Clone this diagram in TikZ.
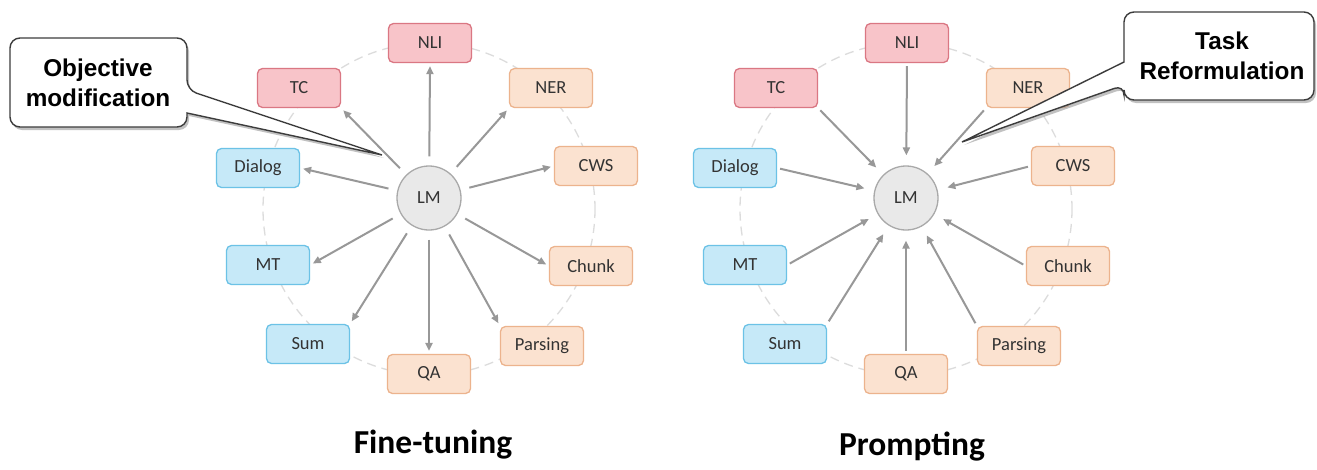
\documentclass[tikz,border=0pt]{standalone}
\usepackage{fontspec}
\setmainfont{Carlito}
\newfontfamily\calloutfont{Liberation Sans}
\usetikzlibrary{arrows.meta,shadows}

\definecolor{redfill}{HTML}{F8C4C9}
\definecolor{redline}{HTML}{DA7783}
\definecolor{orgfill}{HTML}{FBE2D0}
\definecolor{orgline}{HTML}{ECB38D}
\definecolor{bluefill}{HTML}{C6E9F8}
\definecolor{blueline}{HTML}{6CC2E6}
\definecolor{lmfill}{HTML}{E9E9E9}
\definecolor{lmline}{HTML}{A9A9A9}
\definecolor{arrowgray}{HTML}{989898}
\definecolor{ringgray}{HTML}{DCDCDC}
\definecolor{textgray}{HTML}{333333}
\definecolor{calloutline}{HTML}{3C3C3C}

\tikzset{
  task/.style={rounded corners=5pt, minimum width=83pt, minimum height=39pt,
    line width=1.3pt, inner sep=0pt, text=textgray,
    font=\fontsize{18.5}{20}\selectfont},
  redtask/.style={task, draw=redline, fill=redfill},
  orgtask/.style={task, draw=orgline, fill=orgfill},
  bluetask/.style={task, draw=blueline, fill=bluefill},
  lmnode/.style={circle, minimum size=64pt, inner sep=0pt, draw=lmline,
    fill=lmfill, line width=1.3pt, text=textgray,
    font=\fontsize{18.5}{20}\selectfont},
  ring/.style={draw=ringgray, line width=1.3pt, dash pattern=on 9pt off 6pt},
  link/.style={draw=arrowgray, line width=2pt,
    -{Triangle[length=8pt,width=7pt]}},
  outlink/.style={link, shorten <=9pt, shorten >=3pt},
  inlink/.style={link, shorten <=3pt, shorten >=10pt},
  callout/.style={draw=calloutline, line width=1.4pt, fill=white,
    drop shadow={shadow xshift=2pt, shadow yshift=-3pt, fill=black!40,
      opacity=0.6}},
  callouttext/.style={align=center, text=black,
    font=\calloutfont\bfseries\fontsize{24.3}{30}\selectfont},
  title/.style={anchor=base, text=black,
    font=\bfseries\fontsize{33.5}{36}\selectfont},
}

% the ten tasks arranged round the language model
\newcommand\placering[1]{%
  \draw[ring] (0,11) circle[radius=166];
  \node[lmnode]   (#1LM)      at (0,0)       {LM};
  \node[redtask]  (#1NLI)     at (1,-155)    {NLI};
  \node[redtask]  (#1TC)      at (-130,-110) {TC};
  \node[orgtask]  (#1NER)     at (122,-110)  {NER};
  \node[bluetask] (#1Dialog)  at (-171,-30)  {Dialog};
  \node[orgtask]  (#1CWS)     at (167,-32)   {CWS};
  \node[bluetask] (#1MT)      at (-161,67)   {MT};
  \node[orgtask]  (#1Chunk)   at (162,68)    {Chunk};
  \node[bluetask] (#1Sum)     at (-121,146)  {Sum};
  \node[orgtask]  (#1QA)      at (0,176)     {QA};
  \node[orgtask]  (#1Parsing) at (113,148)   {Parsing};
}

\begin{document}
\begin{tikzpicture}[x=1pt, y=-1pt]
  \useasboundingbox[fill=white] (0,0) rectangle (1317,469);

  \begin{scope}[shift={(429,198)}]
    \placering{ft}
  \end{scope}
  \begin{scope}[shift={(906,198)}]
    \placering{pr}
  \end{scope}

  % fine-tuning: the model feeds every task; prompting: every task feeds the model
  \foreach \t/\a in {NLI/south, TC/south east, NER/south west, Dialog/east,
      CWS/west, MT/east, Chunk/west, Sum/north east, QA/north,
      Parsing/north west} {
    \draw[outlink] (ftLM) -- (ft\t.\a);
    \draw[inlink] (pr\t.\a) -- (prLM);
  }

  % callouts
  \coordinate (objtip) at (382,155);
  \draw[callout] (98,38) [rounded corners=10pt] -- (187,38) -- (187,90)
    [rounded corners=0pt] -- (objtip) -- (187,113)
    [rounded corners=10pt] -- (187,127) -- (10,127) -- (10,38) -- cycle;
  \node[callouttext] (objtext) at (98,83) {Objective\\modification};

  \coordinate (reftip) at (962,142);
  \draw[callout] (1220,12) [rounded corners=10pt] -- (1314,12) -- (1314,100)
    -- (1124,100) -- (1124,85)
    [rounded corners=0pt] -- (reftip) -- (1124,62)
    [rounded corners=10pt] -- (1124,12) -- cycle;
  \node[callouttext] (reftext) at (1222,56) {Task\\Reformulation};

  % captions
  \node[title] (fttitle) at (433,453) {Fine-tuning};
  \node[title] (prtitle) at (912,455) {Prompting};
\end{tikzpicture}
\end{document}
